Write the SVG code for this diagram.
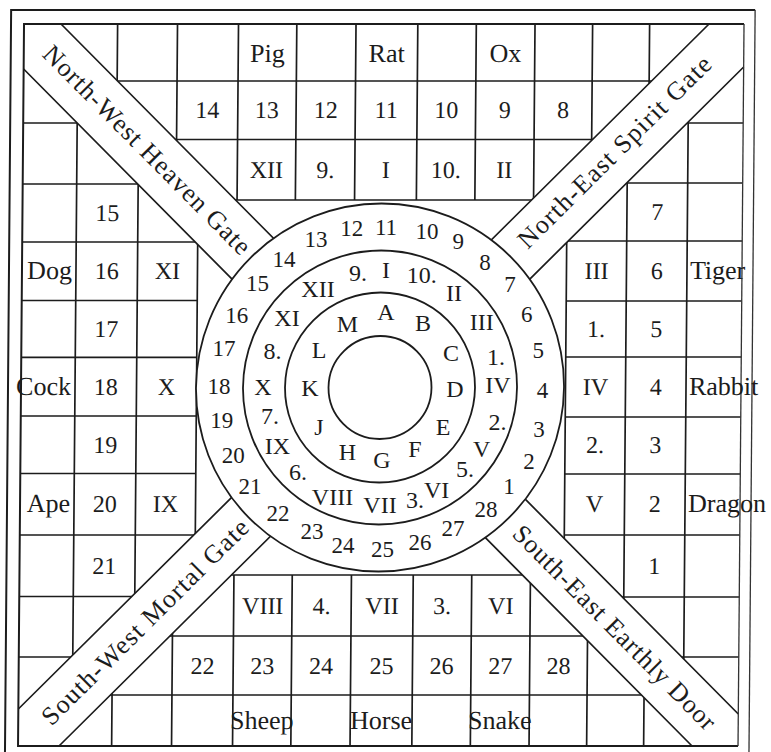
<svg xmlns="http://www.w3.org/2000/svg" width="771" height="752" viewBox="0 0 771 752">
<style>
.ln{stroke:#1c1c1c;stroke-width:1.7;fill:none}
.fr{stroke:#1c1c1c;stroke-width:2;fill:none}
.fr2{stroke:#333;stroke-width:1.3;fill:none}
.bd{fill:#fff;stroke:none}
.ci{stroke:#1c1c1c;stroke-width:1.8;fill:none}
text{font-family:"Liberation Serif","Times New Roman",serif;fill:#1c1c1c;text-anchor:middle}
.a{font-size:26px}
.n{font-size:24px}
.c{font-size:23px}
.g{font-size:26px}
.e{text-anchor:end}
.s{text-anchor:start}
</style>
<defs>
<clipPath id="cT"><polygon points="380.5,388.5 -20,-12 800,-31"/></clipPath>
<clipPath id="cL"><polygon points="380.5,388.5 -20,-12 -20,789"/></clipPath>
<clipPath id="cB"><polygon points="380.5,388.5 -20,789 800,808"/></clipPath>
<clipPath id="cR"><polygon points="380.5,388.5 800,-31 800,808"/></clipPath>
</defs>
<rect width="771" height="752" fill="#fff"/>
<g id="board" transform="matrix(1,0,-0.0083,1,3.22,0)">
  <g id="grid-top" class="ln" clip-path="url(#cT)">
    <path d="M21 81H741M21 139.5H741M21 200H741"/>
    <path d="M114.6 24V200M174.5 24V200M235.5 24V200M293.8 24V200M353 24V200M414.8 24V200M473.3 24V200M532 24V200M589.6 24V200M646.6 24V200"/>
  </g>
  <g id="grid-bottom" class="ln" clip-path="url(#cB)">
    <path d="M21 575H741M21 636H741M21 695H741"/>
    <path d="M114.6 575V746M174.5 575V746M235.5 575V746M293.8 575V746M353 575V746M414.8 575V746M473.3 575V746M532 575V746M589.6 575V746M646.6 575V746"/>
  </g>
  <g id="grid-left" class="ln" clip-path="url(#cL)">
    <path d="M75 24V746M136.5 24V746M196.5 24V746"/>
    <path d="M21 123H196.5M21 184H196.5M21 242H196.5M21 300.5H196.5M21 357.3H196.5M21 416H196.5M21 473.5H196.5M21 535H196.5M21 596.5H196.5M21 657H196.5"/>
  </g>
  <g id="grid-right" class="ln" clip-path="url(#cR)">
    <path d="M565.5 24V746M625.5 24V746M686 24V746"/>
    <path d="M565.5 123H741M565.5 183H741M565.5 241H741M565.5 301H741M565.5 357H741M565.5 417H741M565.5 474H741M565.5 535H741M565.5 597H741M565.5 657H741"/>
  </g>
  <g id="bands">
    <polygon class="bd" points="21,24 58,24 400,366 360,408 21,69"/>
    <polygon class="bd" points="400,373 741,714 741,746 695,746 360,411"/>
    <polygon class="bd" points="706,24 741,24 741,67 400,408 360,370"/>
    <polygon class="bd" points="21,709 360,370 400,408 62,746 21,746"/>
    <path class="ln" d="M58 24L380 346M21 69L340 388M400 373L741 714M360 411L695 746M706 24L21 709M741 67L62 746"/>
  </g>
  <g id="wheel">
    <circle cx="380" cy="387.5" r="184" fill="#fff" stroke="#1c1c1c" stroke-width="1.8"/>
    <circle class="ci" cx="380" cy="387.5" r="137"/>
    <circle class="ci" cx="380" cy="387.5" r="95"/>
    <circle class="ci" cx="380" cy="387.5" r="51.5"/>
  </g>
  <g id="frame">
    <path class="fr" d="M741 24H21V746H741"/>
    <path class="fr2" d="M741 24V746"/>
    <path class="fr" d="M8 770V10H752"/>
    <path class="fr2" d="M752 10V770"/>
  </g>
  <g id="gates">
    <text class="g" x="139" y="156" textLength="284" transform="rotate(45 139 156)">North-West Heaven Gate</text>
    <text class="g" x="618.6" y="158" textLength="260" transform="rotate(-45 618.6 158)">North-East Spirit Gate</text>
    <text class="g" x="153" y="628" textLength="279" transform="rotate(-45 153 628)">South-West Mortal Gate</text>
    <text class="g" x="610.5" y="633.5" textLength="278" transform="rotate(45 610.5 633.5)">South-East Earthly Door</text>
  </g>
  <g id="top-labels">
    <text class="a" x="264.6" y="62">Pig</text>
    <text class="a" x="383.9" y="62">Rat</text>
    <text class="a" x="502.6" y="62">Ox</text>
    <text class="n" x="205" y="118">14</text>
    <text class="n" x="264.6" y="118">13</text>
    <text class="n" x="323.4" y="118">12</text>
    <text class="n" x="383.9" y="118">11</text>
    <text class="n" x="444" y="118">10</text>
    <text class="n" x="502.6" y="118">9</text>
    <text class="n" x="560.8" y="118">8</text>
    <text class="n" x="264.6" y="178">XII</text>
    <text class="n" x="323.4" y="178">9.</text>
    <text class="n" x="383.9" y="178">I</text>
    <text class="n" x="444" y="178">10.</text>
    <text class="n" x="502.6" y="178">II</text>
  </g>
  <g id="bottom-labels">
    <text class="n" x="264.6" y="614">VIII</text>
    <text class="n" x="323.4" y="614">4.</text>
    <text class="n" x="383.9" y="614">VII</text>
    <text class="n" x="444" y="614">3.</text>
    <text class="n" x="502.6" y="614">VI</text>
    <text class="n" x="205" y="674">22</text>
    <text class="n" x="264.6" y="674">23</text>
    <text class="n" x="323.4" y="674">24</text>
    <text class="n" x="383.9" y="674">25</text>
    <text class="n" x="444" y="674">26</text>
    <text class="n" x="502.6" y="674">27</text>
    <text class="n" x="560.8" y="674">28</text>
    <text class="a" x="264.6" y="729">Sheep</text>
    <text class="a" x="383.9" y="729">Horse</text>
    <text class="a" x="502.6" y="729">Snake</text>
  </g>
  <g id="left-labels">
    <text class="n" x="105.75" y="221">15</text>
    <text class="a e" x="71" y="279.5">Dog</text>
    <text class="n" x="105.75" y="279.5">16</text>
    <text class="n" x="166.5" y="279.5">XI</text>
    <text class="n" x="105.75" y="337">17</text>
    <text class="a e" x="71" y="395">Cock</text>
    <text class="n" x="105.75" y="395">18</text>
    <text class="n" x="166.5" y="395">X</text>
    <text class="n" x="105.75" y="453">19</text>
    <text class="a e" x="71" y="512.5">Ape</text>
    <text class="n" x="105.75" y="512.5">20</text>
    <text class="n" x="166.5" y="512.5">IX</text>
    <text class="n" x="105.75" y="574">21</text>
  </g>
  <g id="right-labels">
    <text class="n" x="655.75" y="220">7</text>
    <text class="n" x="595.5" y="279">III</text>
    <text class="n" x="655.75" y="279">6</text>
    <text class="a s" x="689" y="279">Tiger</text>
    <text class="n" x="595.5" y="337">1.</text>
    <text class="n" x="655.75" y="337">5</text>
    <text class="n" x="595.5" y="395">IV</text>
    <text class="n" x="655.75" y="395">4</text>
    <text class="a s" x="689" y="395">Rabbit</text>
    <text class="n" x="595.5" y="453.5">2.</text>
    <text class="n" x="655.75" y="453.5">3</text>
    <text class="n" x="595.5" y="512.5">V</text>
    <text class="n" x="655.75" y="512.5">2</text>
    <text class="a s" x="689" y="512.5">Dragon</text>
    <text class="n" x="655.75" y="574">1</text>
  </g>
</g>
<g id="ring-numbers" class="c">
  <text x="351.7" y="235.6">12</text>
  <text x="386" y="234.6">11</text>
  <text x="427" y="239.3">10</text>
  <text x="458.3" y="249.3">9</text>
  <text x="485" y="270.1">8</text>
  <text x="510" y="291.6">7</text>
  <text x="526.7" y="321.6">6</text>
  <text x="538.3" y="358.4">5</text>
  <text x="542.5" y="397.6">4</text>
  <text x="539" y="436.6">3</text>
  <text x="529" y="469.3">2</text>
  <text x="509" y="494.3">1</text>
  <text x="486" y="516.6">28</text>
  <text x="453" y="535.6">27</text>
  <text x="420" y="549.6">26</text>
  <text x="382.5" y="556.6">25</text>
  <text x="343" y="552.6">24</text>
  <text x="312" y="539.3">23</text>
  <text x="278" y="520.6">22</text>
  <text x="250" y="494.3">21</text>
  <text x="233.3" y="462.6">20</text>
  <text x="221.7" y="427.6">19</text>
  <text x="219" y="394.3">18</text>
  <text x="224" y="355.6">17</text>
  <text x="236.7" y="322.6">16</text>
  <text x="257.5" y="290.6">15</text>
  <text x="284" y="266.6">14</text>
  <text x="316" y="246.6">13</text>
</g>
<g id="ring-roman" class="n">
  <text x="386" y="278">I</text>
  <text x="358" y="280.5">9.</text>
  <text x="421.7" y="283">10.</text>
  <text x="318" y="297">XII</text>
  <text x="454" y="301">II</text>
  <text x="287" y="326">XI</text>
  <text x="481.7" y="330">III</text>
  <text x="272.5" y="359">8.</text>
  <text x="496" y="365">1.</text>
  <text x="263" y="395">X</text>
  <text x="498" y="393">IV</text>
  <text x="270" y="424">7.</text>
  <text x="497.5" y="430">2.</text>
  <text x="277.5" y="454">IX</text>
  <text x="481.7" y="457">V</text>
  <text x="298" y="480">6.</text>
  <text x="465" y="477">5.</text>
  <text x="332.5" y="504.7">VIII</text>
  <text x="380" y="513">VII</text>
  <text x="415" y="508">3.</text>
  <text x="436.7" y="498">VI</text>
</g>
<g id="ring-letters" class="n">
  <text x="386" y="319.7">A</text>
  <text x="423" y="331">B</text>
  <text x="347.5" y="332">M</text>
  <text x="451" y="361">C</text>
  <text x="319" y="358">L</text>
  <text x="455" y="397">D</text>
  <text x="310" y="396">K</text>
  <text x="443" y="435">E</text>
  <text x="319" y="434.7">J</text>
  <text x="415" y="457">F</text>
  <text x="347.5" y="460">H</text>
  <text x="382" y="468">G</text>
</g>
</svg>
